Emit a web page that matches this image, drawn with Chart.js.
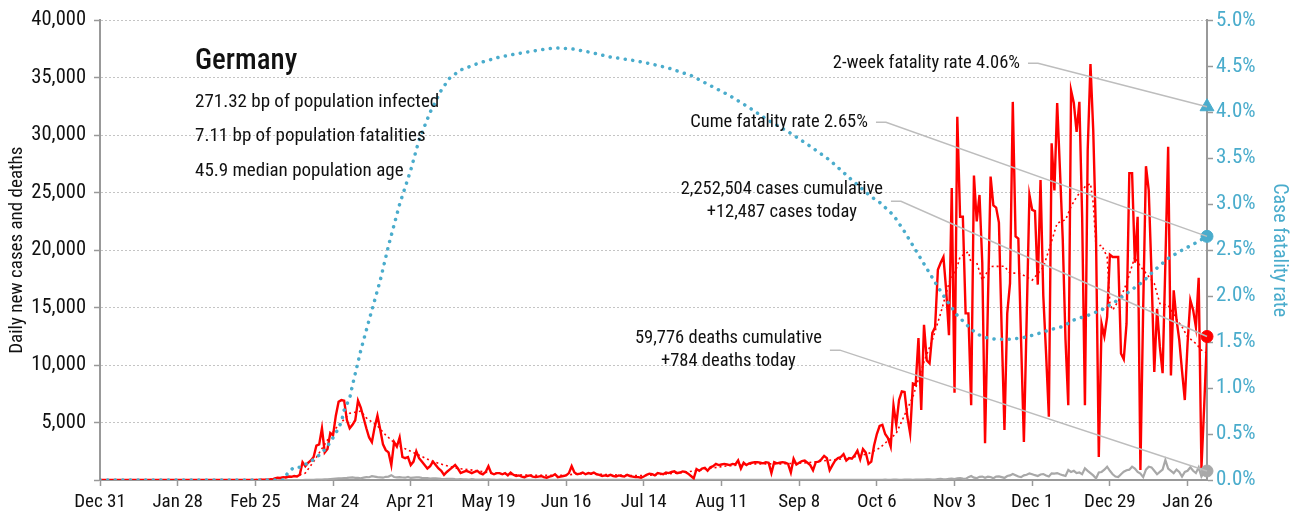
<!DOCTYPE html>
<html>
<head>
<meta charset="utf-8">
<script src="https://cdn.jsdelivr.net/npm/chart.js@4.4.1/dist/chart.umd.min.js"></script>
<style>
  html, body { margin: 0; padding: 0; background: #fff; }
  #wrap { width: 1299px; height: 520px; }
</style>
</head>
<body>
<div id="wrap"><canvas id="covidChart" width="1299" height="520"></canvas></div>
<script>
// day 0 = Dec 31, 2019
const tickDays = [0, 28, 56, 84, 112, 140, 168, 196, 224, 252, 280, 308, 336, 364, 392];
const tickLabels = ['Dec 31', 'Jan 28', 'Feb 25', 'Mar 24', 'Apr 21', 'May 19', 'Jun 16', 'Jul 14',
    'Aug 11', 'Sep 8', 'Oct 6', 'Nov 3', 'Dec 1', 'Dec 29', 'Jan 26'];

// daily new cases, one value per day
const dailyCases = [
    0, 0, 0, 0, 0, 0, 0, 0, 0, 0,
    0, 0, 0, 0, 0, 0, 0, 0, 0, 0,
    0, 0, 0, 0, 0, 0, 0, 0, 1, 3,
    0, 1, 1, 3, 0, 1, 1, 3, 0, 0,
    2, 0, 0, 0, 0, 0, 0, 0, 0, 0,
    0, 0, 0, 0, 0, 0, 0, 0, 20, 30,
    30, 50, 40, 130, 200, 180, 250, 220, 300, 280,
    350, 300, 450, 1550, 1200, 1500, 1700, 2000, 3000, 3100,
    4500, 2400, 2700, 4100, 3900, 5600, 6800, 6950, 6900, 5200,
    4500, 4800, 5200, 6900, 6300, 5400, 4500, 3700, 3300, 4600,
    5600, 4400, 3100, 2600, 2400, 1300, 3300, 2900, 3700, 2000,
    1900, 2000, 1300, 1600, 2500, 1900, 1600, 1300, 1000, 1200,
    1600, 1300, 1000, 800, 450, 700, 900, 1100, 1300, 1000,
    600, 700, 800, 700, 600, 700, 800, 600, 500, 700,
    1200, 600, 500, 600, 600, 500, 600, 400, 650, 450,
    350, 400, 300, 250, 350, 400, 300, 250, 300, 350,
    250, 200, 300, 350, 500, 250, 300, 350, 400, 600,
    1200, 650, 500, 550, 650, 500, 600, 550, 650, 500,
    450, 350, 400, 350, 450, 350, 300, 400, 350, 300,
    450, 350, 300, 250, 250, 200, 300, 450, 550, 500,
    400, 600, 550, 500, 650, 600, 700, 750, 600, 650,
    750, 700, 550, 350, 150, 950, 800, 1000, 1050, 800,
    1100, 1200, 1400, 1300, 1350, 1400, 1350, 1300, 1400, 1350,
    1700, 1000, 1500, 1300, 1450, 1500, 1550, 1550, 1500, 1450,
    1550, 1500, 600, 1550, 1450, 1500, 1550, 1500, 1400, 650,
    1850, 1350, 1500, 1650, 1700, 1500, 1300, 850, 1550, 1600,
    1800, 2100, 1900, 850, 1300, 1700, 1900, 2000, 2250, 1700,
    1900, 1850, 2150, 2550, 1800, 2700, 2400, 1400, 1600, 3000,
    4000, 4700, 4800, 4000, 3650, 2900, 6500, 4800, 6950, 7700,
    7650, 5500, 4050, 8400, 8300, 12350, 6100, 13500, 10400, 10150,
    12800, 13300, 18300, 18900, 19400, 16500, 12600, 25400, 7600, 31600,
    22900, 22900, 14500, 14500, 6500, 26500, 22500, 24800, 18900, 3200,
    15000, 26400, 23900, 23700, 22400, 13000, 4350, 14500, 17100, 32900,
    21200, 21000, 12000, 3300, 14000, 24800, 23500, 23400, 17000, 26100,
    16000, 11000, 5500, 29300, 25200, 32800, 27000, 21000, 12200, 6500,
    33900, 32800, 30300, 32900, 22900, 6500, 28700, 36200, 30400, 21200,
    2000, 13600, 12500, 14200, 19600, 19400, 19400, 19400, 11000, 10500,
    13600, 26700, 26700, 18900, 22900, 870, 15000, 27300, 25200, 18000,
    9400, 14900, 11600, 9300, 18900, 29000, 9100, 16500, 14000, 12200,
    9500, 6960, 11900, 15650, 14800, 13300, 17600, 1040, 6500, 12487
];

// daily new deaths, one value per day
const dailyDeaths = [
    0, 0, 0, 0, 0, 0, 0, 0, 0, 0,
    0, 0, 0, 0, 0, 0, 0, 0, 0, 0,
    0, 0, 0, 0, 0, 0, 0, 0, 0, 0,
    0, 0, 0, 0, 0, 0, 0, 0, 0, 0,
    0, 0, 0, 0, 0, 0, 0, 0, 0, 0,
    0, 0, 0, 0, 0, 0, 0, 0, 0, 0,
    0, 0, 0, 0, 0, 0, 0, 0, 0, 0,
    0, 2, 2, 1, 5, 10, 15, 20, 25, 30,
    40, 50, 60, 80, 100, 120, 140, 150, 170, 180,
    200, 220, 180, 190, 150, 200, 250, 240, 330, 300,
    250, 230, 200, 280, 300, 420, 260, 230, 250, 220,
    200, 260, 180, 210, 220, 230, 190, 170, 160, 120,
    140, 150, 120, 90, 80, 100, 110, 90, 70, 60,
    80, 60, 50, 40, 70, 50, 40, 30, 60, 40,
    50, 30, 40, 20, 30, 30, 20, 25, 30, 20,
    20, 15, 10, 25, 15, 10, 20, 15, 10, 12,
    15, 10, 8, 12, 20, 10, 8, 12, 15, 10,
    8, 12, 10, 6, 10, 15, 8, 5, 10, 12,
    8, 6, 10, 5, 8, 10, 6, 4, 8, 5,
    6, 8, 5, 4, 6, 5, 3, 8, 6, 5,
    4, 6, 8, 5, 3, 6, 8, 5, 4, 6,
    5, 3, 6, 5, 4, 8, 6, 5, 3, 6,
    8, 5, 4, 6, 8, 5, 3, 6, 8, 5,
    4, 6, 5, 3, 8, 6, 5, 4, 6, 8,
    5, 3, 6, 8, 5, 4, 6, 8, 10, 5,
    4, 8, 10, 6, 5, 8, 10, 12, 6, 5,
    10, 12, 8, 6, 12, 15, 10, 8, 14, 12,
    10, 16, 14, 8, 12, 18, 16, 10, 14, 20,
    18, 12, 20, 24, 16, 14, 28, 30, 20, 18,
    30, 35, 25, 20, 40, 45, 30, 28, 50, 55,
    40, 35, 80, 90, 60, 50, 110, 130, 90, 150,
    170, 120, 100, 250, 350, 200, 160, 280, 300, 200,
    290, 260, 150, 300, 320, 250, 180, 350, 400, 520,
    420, 300, 250, 400, 450, 580, 500, 420, 350, 480,
    520, 400, 300, 580, 550, 600, 500, 420, 350, 870,
    700, 800, 600, 650, 500, 1010, 800, 600, 400, 140,
    650, 700, 900, 1160, 800, 500, 300, 250, 500, 720,
    850, 900, 1160, 1000, 700, 550, 250, 900, 1160, 1100,
    800, 500, 700, 900, 1740, 1000, 800, 600, 900, 700,
    300, 700, 800, 1100, 800, 600, 1100, 300, 700, 784
];

// 7-day average of new cases, read at these days
const avgDays = [0, 60, 65, 70, 74, 77, 82, 85, 90, 94, 96, 100, 103, 107, 112, 119, 124, 129, 133, 140,
    150, 160, 168, 172, 180, 190, 196, 200, 210, 217, 225, 235, 245, 255, 262, 270, 277, 281, 287, 293,
    297, 300, 303, 306, 309, 310, 313, 314, 316, 318, 321, 326, 328, 331, 333, 336, 340, 342, 345, 348,
    350, 352, 355, 357, 358, 359, 361, 363, 364, 365, 368, 370, 373, 375, 378, 380, 382, 385, 388, 390,
    392, 395, 397, 399];
const avgCases = [0, 30, 200, 300, 600, 1600, 3480, 4500, 5800, 6000, 5400, 4700, 3900, 3050, 2500, 1700, 1300, 1000, 900, 650,
    450, 400, 420, 550, 500, 400, 380, 450, 650, 900, 1200, 1400, 1400, 1500, 1700, 1900, 2300, 2780, 4060, 7250,
    10290, 12170, 14500, 17130, 18580, 19420, 19860, 18870, 18900, 17390, 18580, 18600, 18000, 18000, 17800, 17390, 18500, 20000, 22350, 22640,
    23800, 24640, 25510, 25800, 24060, 20290, 20430, 19420, 15360, 14780, 15940, 17100, 19420, 18580, 17700, 17100, 15360, 15200, 14000, 13330,
    12460, 11880, 11300, 11030];

// cumulative case fatality rate (%), read at these days
const cfrDays = [0, 66, 68, 70, 72, 76, 78, 79, 81, 83, 85, 87, 88, 90, 91, 94, 97, 101, 104, 108,
    112, 115, 119, 123, 126, 130, 137, 144, 151, 159, 164, 170, 177, 184, 191, 198, 205, 213, 220, 227,
    234, 241, 249, 256, 263, 270, 278, 281, 286, 290, 294, 298, 302, 305, 309, 313, 316, 319, 323, 328,
    333, 338, 342, 347, 351, 356, 361, 366, 371, 376, 380, 385, 390, 395, 399];
const cfrValues = [0, 0, 0.09, 0.14, 0.14, 0.2, 0.25, 0.27, 0.33, 0.41, 0.51, 0.63, 0.76, 0.89, 1.03, 1.41, 1.74, 2.17, 2.55, 3.0,
    3.37, 3.7, 4.0, 4.24, 4.37, 4.46, 4.54, 4.6, 4.64, 4.68, 4.7, 4.69, 4.65, 4.6, 4.57, 4.53, 4.48, 4.4, 4.29, 4.18,
    4.05, 3.91, 3.77, 3.63, 3.48, 3.29, 3.08, 3.02, 2.88, 2.7, 2.5, 2.3, 2.1, 1.96, 1.79, 1.67, 1.59, 1.55, 1.53, 1.53,
    1.55, 1.59, 1.63, 1.67, 1.74, 1.79, 1.85, 1.94, 2.05, 2.16, 2.28, 2.41, 2.5, 2.58, 2.65];

const lastDay = 399;
const twoWeekCfr = 4.06;
const cumeCfr = 2.65;
const casesToday = 12487;
const deathsToday = 784;

const countryName = 'Germany';
const statLines = ['271.32 bp of population infected', '7.11 bp of population fatalities', '45.9 median population age'];

const FONT = "'Liberation Sans Narrow', 'Roboto Condensed', 'DejaVu Sans Condensed', 'Arial Narrow', Roboto, sans-serif";
const BLUE = '#4aaccc';
const RED = '#ff0000';
const GREY = '#a8a8a8';

const zip = (xs, ys) => xs.map((x, i) => ({ x: x, y: ys[i] }));

// text blocks with leader lines to the end markers
const notes = [
    { lines: ['2-week fatality rate 4.06%'], x: 331.6, y: 36260, axis: 'y1', target: twoWeekCfr },
    { lines: ['Cume fatality rate 2.65%'], x: 276.8, y: 31130, axis: 'y1', target: cumeCfr },
    { lines: ['2,252,504 cases cumulative', '+12,487 cases today'], x: 282.2, y: 24260, axis: 'y', target: casesToday },
    { lines: ['59,776 deaths cumulative', '+784 deaths today'], x: 260.2, y: 11300, axis: 'y', target: deathsToday }
];

const notesPlugin = {
    id: 'notes',
    afterDatasetsDraw(chart) {
        const ctx = chart.ctx;
        const xs = chart.scales.x;
        const ys = chart.scales.y;
        const area = chart.chartArea;
        ctx.save();

        // country block
        ctx.fillStyle = '#111';
        ctx.textBaseline = 'middle';
        ctx.textAlign = 'left';
        ctx.font = '500 29px ' + FONT;
        ctx.fillText(countryName, area.left + 95, 62);
        ctx.font = '19px ' + FONT;
        statLines.forEach((line, i) => ctx.fillText(line, area.left + 95, 102 + i * 34.5));

        // annotations
        ctx.font = '18.5px ' + FONT;
        notes.forEach(note => {
            const right = xs.getPixelForValue(note.x);
            const cy = ys.getPixelForValue(note.y);
            const widths = note.lines.map(l => ctx.measureText(l).width);
            const w = Math.max(...widths);
            const cx = right - w / 2;
            const lh = 23;
            const top = cy - (note.lines.length - 1) * lh / 2;
            ctx.fillStyle = '#111';
            ctx.textAlign = 'center';
            note.lines.forEach((l, i) => ctx.fillText(l, cx, top + i * lh));

            const tx = xs.getPixelForValue(lastDay);
            const ty = chart.scales[note.axis].getPixelForValue(note.target);
            ctx.strokeStyle = '#bdbdbd';
            ctx.lineWidth = 1.5;
            ctx.beginPath();
            ctx.moveTo(right + 8, cy);
            ctx.lineTo(right + 18, cy);
            ctx.lineTo(tx, ty);
            ctx.stroke();
        });
        ctx.restore();
    }
};

const marker = (label, value, axis, color, style, radius) => ({
    label: label,
    data: [{ x: lastDay, y: value }],
    pointStyle: style,
    pointRadius: radius,
    backgroundColor: color,
    borderColor: color,
    showLine: false,
    clip: false,
    yAxisID: axis,
    order: 1
});

const ctx = document.getElementById('covidChart').getContext('2d');
new Chart(ctx, {
    type: 'line',
    data: {
        datasets: [
            {
                label: 'Deaths',
                data: dailyDeaths.map((v, i) => ({ x: i, y: v })),
                borderColor: GREY,
                borderWidth: 2.2,
                pointRadius: 0,
                yAxisID: 'y',
                order: 5
            },
            {
                label: 'Cases',
                data: dailyCases.map((v, i) => ({ x: i, y: v })),
                borderColor: RED,
                borderWidth: 2.4,
                pointRadius: 0,
                yAxisID: 'y',
                order: 4
            },
            {
                label: 'Cases 7-day average',
                data: zip(avgDays, avgCases),
                borderColor: RED,
                borderWidth: 1.6,
                borderDash: [2, 3],
                pointRadius: 0,
                yAxisID: 'y',
                order: 3
            },
            {
                label: 'Case fatality rate',
                data: zip(cfrDays, cfrValues),
                borderColor: BLUE,
                borderWidth: 3.5,
                borderDash: [0.1, 7.5],
                borderCapStyle: 'round',
                pointRadius: 0,
                yAxisID: 'y1',
                order: 2
            },
            marker('2-week fatality rate', twoWeekCfr, 'y1', BLUE, 'triangle', 8),
            marker('Cume fatality rate', cumeCfr, 'y1', BLUE, 'circle', 6),
            marker('Cases today', casesToday, 'y', RED, 'circle', 6),
            marker('Deaths today', deathsToday, 'y', GREY, 'circle', 6)
        ]
    },
    options: {
        responsive: false,
        animation: false,
        layout: { padding: { top: 20, left: 0, right: 0, bottom: 0 } },
        plugins: {
            legend: { display: false },
            tooltip: { enabled: false }
        },
        scales: {
            x: {
                type: 'linear',
                min: 0,
                max: lastDay,
                afterBuildTicks: axis => { axis.ticks = tickDays.map(v => ({ value: v })); },
                afterFit: axis => { axis.height = 40; },
                ticks: {
                    autoSkip: false,
                    maxRotation: 0,
                    padding: 5,
                    color: '#111',
                    font: { family: FONT, size: 19 },
                    callback: value => tickLabels[tickDays.indexOf(value)]
                },
                grid: { drawOnChartArea: false, drawTicks: true, tickLength: 6, tickColor: '#999', tickWidth: 1.5 },
                border: { display: true, color: '#999', width: 2 }
            },
            y: {
                position: 'left',
                min: 0,
                max: 40000,
                afterFit: axis => { axis.width = 100; },
                ticks: {
                    stepSize: 5000,
                    padding: 8,
                    color: '#111',
                    font: { family: FONT, size: 20.5 },
                    callback: value => value === 0 ? '' : value.toLocaleString('en-US')
                },
                grid: { color: '#c4c4c4', lineWidth: 1, tickLength: 6, tickColor: '#999', tickWidth: 1.5, tickBorderDash: [] },
                border: { display: true, color: '#999', width: 2, dash: [2, 2] },
                title: {
                    display: true,
                    text: 'Daily new cases and deaths',
                    color: '#111',
                    font: { family: FONT, size: 19 },
                    padding: { top: 6, bottom: 0 }
                }
            },
            y1: {
                position: 'right',
                min: 0,
                max: 5,
                afterFit: axis => { axis.width = 92; },
                ticks: {
                    stepSize: 0.5,
                    padding: 3,
                    color: BLUE,
                    font: { family: FONT, size: 21 },
                    callback: value => value.toFixed(1) + '%'
                },
                grid: { drawOnChartArea: false, tickLength: 6, tickColor: '#999', tickWidth: 1.5 },
                border: { display: true, color: '#999', width: 2 },
                title: {
                    display: true,
                    text: 'Case fatality rate',
                    color: BLUE,
                    font: { family: FONT, size: 20 },
                    padding: { top: 8, bottom: 0 }
                }
            }
        }
    },
    plugins: [notesPlugin]
});
</script>
</body>
</html>
